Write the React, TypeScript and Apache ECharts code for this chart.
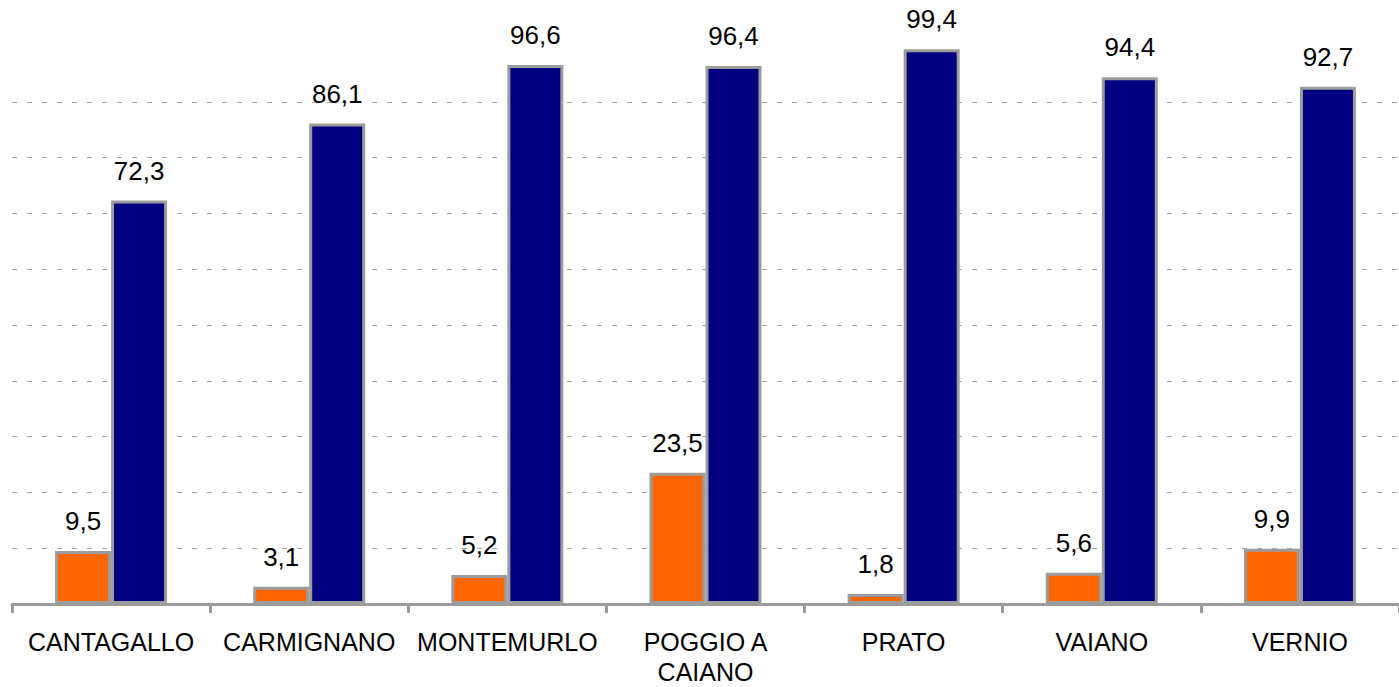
import React, { useEffect, useRef } from "react";
import * as echarts from "echarts";

const categories = ["CANTAGALLO", "CARMIGNANO", "MONTEMURLO", "POGGIO A\nCAIANO", "PRATO", "VAIANO", "VERNIO"];
const orangeValues = [9.5, 3.1, 5.2, 23.5, 1.8, 5.6, 9.9];
const navyValues = [72.3, 86.1, 96.6, 96.4, 99.4, 94.4, 92.7];

const FONT = "'Liberation Sans', Arial, sans-serif";
const fmt = (p: any) => String(p.value).replace(".", ",");

export default function App() {
  const ref = useRef<HTMLDivElement>(null);
  useEffect(() => {
    if (!ref.current) return;
    const chart = echarts.init(ref.current, null, { renderer: "svg" });
    const label = {
      show: true,
      position: "top",
      distance: 17,
      color: "#000",
      fontSize: 26,
      fontFamily: FONT,
      formatter: fmt,
    };
    chart.setOption({
      animation: false,
      backgroundColor: "#fff",
      grid: { left: 12, top: 46, width: 1394, bottom: 80, containLabel: false },
      xAxis: {
        type: "category",
        data: categories,
        axisLine: { show: true, lineStyle: { color: "#9c9c9c", width: 3 } },
        axisTick: { show: true, length: 9, lineStyle: { color: "#9c9c9c", width: 3 } },
        axisLabel: {
          color: "#000",
          fontSize: 25,
          fontFamily: FONT,
          margin: 23,
          lineHeight: 30,
          interval: 0,
        },
      },
      yAxis: {
        type: "value",
        min: 0,
        max: 100,
        interval: 10,
        axisLine: { show: false },
        axisTick: { show: false },
        axisLabel: { show: false },
        splitLine: {
          show: true,
          showMaxLine: false,
          showMinLine: false,
          lineStyle: { color: "#a8a8a8", width: 1, type: [5, 10] },
        },
      },
      series: [
        {
          type: "bar",
          data: orangeValues,
          barWidth: 56,
          barGap: "0%",
          itemStyle: { color: "#FF6600", borderColor: "#9c9c9c", borderWidth: 3 },
          label,
        },
        {
          type: "bar",
          data: navyValues,
          barWidth: 56,
          barGap: "0%",
          itemStyle: { color: "#000080", borderColor: "#9c9c9c", borderWidth: 3 },
          label,
        },
      ],
    });
    return () => chart.dispose();
  }, []);
  return (
    <div
      ref={ref}
      style={{ position: "fixed", left: 0, top: 0, width: 1399, height: 687, background: "#fff" }}
    />
  );
}
